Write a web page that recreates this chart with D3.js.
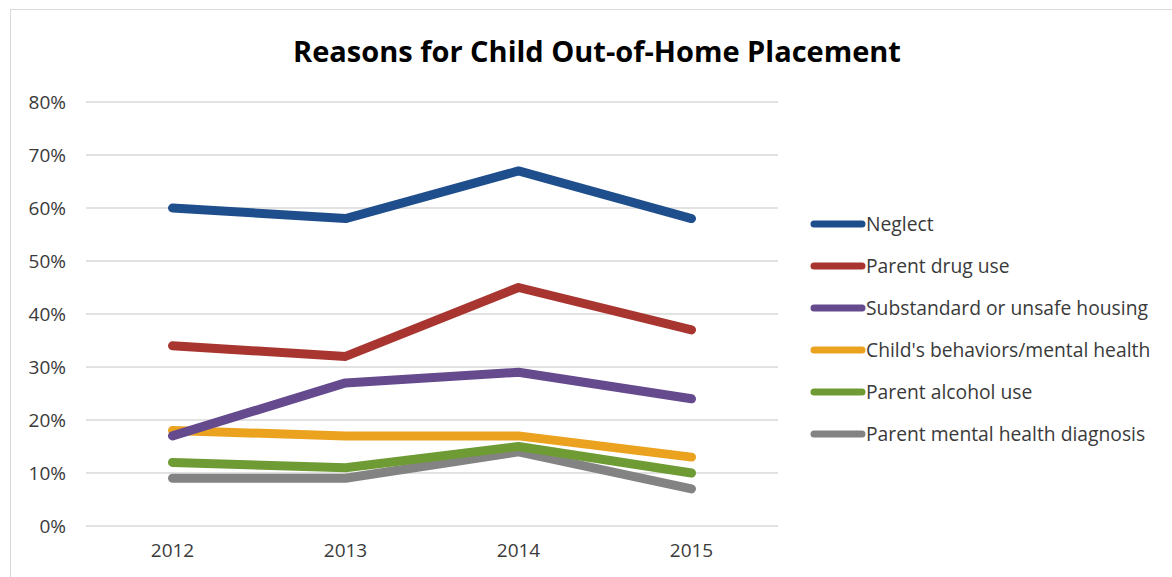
<!DOCTYPE html>
<html>
<head>
<meta charset="utf-8">
<script src="https://cdn.jsdelivr.net/npm/d3@7/dist/d3.min.js"></script>
<style>
  html, body { margin: 0; padding: 0; background: #fff; }
  svg { display: block; }
</style>
</head>
<body>
<svg id="chart" width="1172" height="577"></svg>
<script>
// Reasons for out-of-home placement, share of cases by year
const years = ["2012", "2013", "2014", "2015"];
const seriesNames = [
  "Neglect",
  "Parent drug use",
  "Substandard or unsafe housing",
  "Child's behaviors/mental health",
  "Parent alcohol use",
  "Parent mental health diagnosis"
];
const neglect        = [60, 58, 67, 58];
const parentDrugUse  = [34, 32, 45, 37];
const unsafeHousing  = [17, 27, 29, 24];
const childBehaviors = [18, 17, 17, 13];
const parentAlcohol  = [12, 11, 15, 10];
const parentMental   = [9, 9, 14, 7];
const yTicks = [0, 10, 20, 30, 40, 50, 60, 70, 80];
const colors = ["#1f4e8c", "#a8352f", "#654a8e", "#eba21e", "#6f9b35", "#838383"];

const seriesValues = [neglect, parentDrugUse, unsafeHousing, childBehaviors, parentAlcohol, parentMental];
const series = seriesNames.map((name, i) => ({
  name, color: colors[i],
  values: years.map((y, j) => ({ year: y, value: seriesValues[i][j] }))
}));

const svg = d3.select("#chart");
const font = "'Open Sans', Lato, sans-serif";

// outer frame
svg.append("rect")
  .attr("x", 10.5).attr("y", 9.5)
  .attr("width", 1172).attr("height", 600)
  .attr("fill", "none").attr("stroke", "#d9d9d9").attr("stroke-width", 1);

// title
svg.append("text")
  .attr("x", 597).attr("y", 62)
  .attr("text-anchor", "middle")
  .attr("font-family", font)
  .attr("font-weight", 700)
  .attr("font-size", 29)
  .attr("fill", "#000")
  .text("Reasons for Child Out-of-Home Placement");

const plot = { left: 86, right: 778, top: 102, bottom: 526 };

const x = d3.scaleBand().domain(years).range([plot.left, plot.right]);
const y = d3.scaleLinear().domain([0, 80]).range([plot.bottom, plot.top]);

// horizontal gridlines
svg.append("g")
  .selectAll("line")
  .data(yTicks)
  .join("line")
  .attr("x1", plot.left).attr("x2", plot.right)
  .attr("y1", d => y(d)).attr("y2", d => y(d))
  .attr("stroke", "#d9d9d9").attr("stroke-width", 1.3);

// y axis labels
const yAxis = svg.append("g")
  .attr("transform", `translate(${plot.left},0)`)
  .call(d3.axisLeft(y).tickValues(yTicks).tickFormat(d => d + "%").tickSize(0).tickPadding(20));
yAxis.select(".domain").remove();
yAxis.selectAll("text")
  .attr("font-family", font).attr("font-size", 19).attr("fill", "#3a3a3a");

// x axis labels
const xAxis = svg.append("g")
  .attr("transform", `translate(0,${plot.bottom})`)
  .call(d3.axisBottom(x).tickSize(0).tickPadding(18));
xAxis.select(".domain").remove();
xAxis.selectAll("text")
  .attr("font-family", font).attr("font-size", 19).attr("fill", "#3a3a3a");

// series lines
const line = d3.line()
  .x(d => x(d.year) + x.bandwidth() / 2)
  .y(d => y(d.value));

svg.append("g")
  .selectAll("path")
  .data(series.slice().reverse())
  .join("path")
  .attr("d", d => line(d.values))
  .attr("fill", "none")
  .attr("stroke", d => d.color)
  .attr("stroke-width", 9)
  .attr("stroke-linecap", "round")
  .attr("stroke-linejoin", "round");

// legend
const legend = svg.append("g")
  .selectAll("g")
  .data(series)
  .join("g")
  .attr("transform", (d, i) => `translate(814,${224 + i * 42})`);
legend.append("line")
  .attr("x1", 0).attr("x2", 48)
  .attr("stroke", d => d.color)
  .attr("stroke-width", 7)
  .attr("stroke-linecap", "round");
legend.append("text")
  .attr("x", 52).attr("y", 0)
  .attr("dy", "0.35em")
  .attr("font-family", font)
  .attr("font-size", 19.3)
  .attr("fill", "#3a3a3a")
  .text(d => d.name);
</script>
</body>
</html>
